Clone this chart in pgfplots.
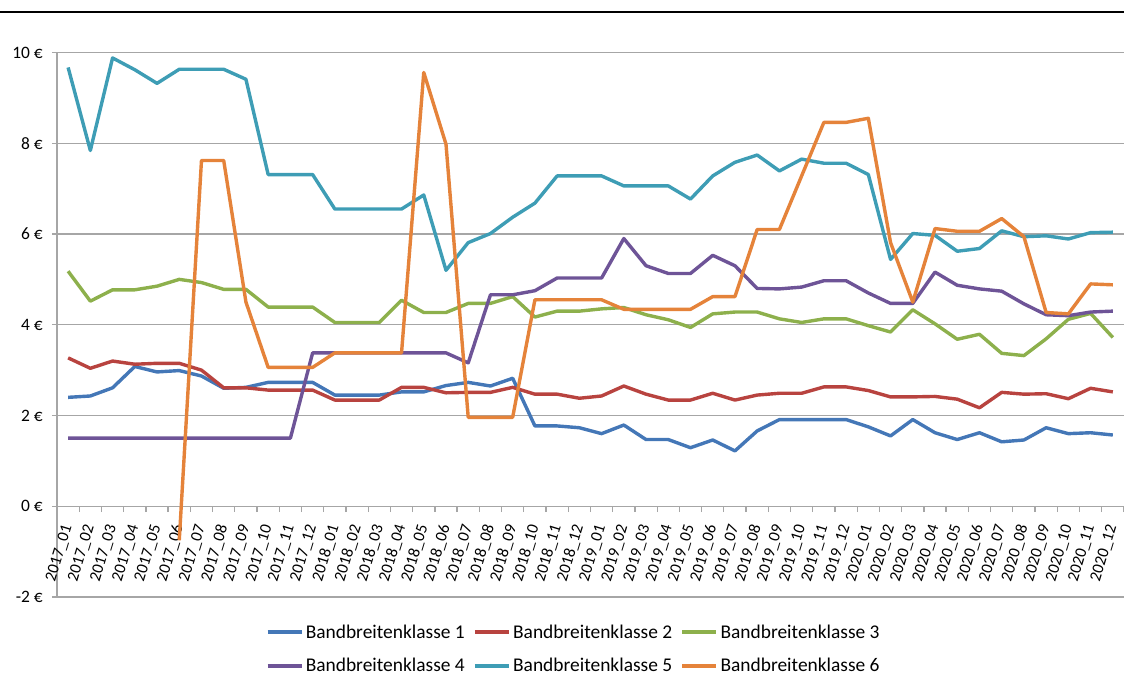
\documentclass[border=0pt]{standalone}
\usepackage{fontspec}
\setmainfont{Carlito}
\usepackage{pgfplots}
\usepackage{pgfplotstable}
\pgfplotsset{compat=1.18}
\definecolor{cA}{HTML}{4477B7}
\definecolor{cB}{HTML}{B8433F}
\definecolor{cC}{HTML}{8DB04C}
\definecolor{cD}{HTML}{6E5497}
\definecolor{cE}{HTML}{3E9DB5}
\definecolor{cF}{HTML}{E5833A}
\definecolor{gridgray}{HTML}{A6A6A6}
\pgfplotstableread{
idx s1 s2 s3 s4 s5 s6
0 2.40 3.27 5.18 1.50 9.67 nan
1 2.43 3.04 4.52 1.50 7.84 nan
2 2.61 3.20 4.77 1.50 9.88 nan
3 3.08 3.13 4.77 1.50 9.62 nan
4 2.96 3.15 4.85 1.50 9.32 nan
5 2.99 3.15 5.00 1.50 9.63 -0.75
6 2.87 3.00 4.93 1.50 9.63 7.62
7 2.60 2.61 4.78 1.50 9.63 7.62
8 2.62 2.61 4.78 1.50 9.41 4.50
9 2.73 2.56 4.39 1.50 7.31 3.06
10 2.73 2.56 4.39 1.50 7.31 3.06
11 2.73 2.56 4.39 3.38 7.31 3.06
12 2.45 2.34 4.05 3.38 6.55 3.38
13 2.45 2.34 4.05 3.38 6.55 3.38
14 2.45 2.34 4.05 3.38 6.55 3.38
15 2.52 2.62 4.54 3.38 6.55 3.38
16 2.52 2.62 4.27 3.38 6.86 9.56
17 2.66 2.50 4.27 3.38 5.20 7.98
18 2.73 2.51 4.47 3.16 5.81 1.96
19 2.65 2.51 4.47 4.66 6.01 1.96
20 2.82 2.62 4.62 4.66 6.37 1.96
21 1.77 2.47 4.17 4.75 6.68 4.55
22 1.77 2.47 4.30 5.03 7.28 4.55
23 1.73 2.38 4.30 5.03 7.28 4.55
24 1.60 2.43 4.35 5.03 7.28 4.55
25 1.79 2.65 4.38 5.90 7.06 4.34
26 1.47 2.47 4.22 5.30 7.06 4.34
27 1.47 2.34 4.11 5.13 7.06 4.34
28 1.29 2.34 3.94 5.13 6.77 4.34
29 1.46 2.49 4.24 5.53 7.28 4.62
30 1.22 2.34 4.28 5.30 7.58 4.62
31 1.66 2.45 4.28 4.80 7.74 6.10
32 1.91 2.49 4.13 4.79 7.39 6.10
33 1.91 2.49 4.05 4.83 7.65 7.28
34 1.91 2.63 4.13 4.97 7.56 8.46
35 1.91 2.63 4.13 4.97 7.56 8.46
36 1.75 2.55 3.98 4.70 7.31 8.55
37 1.55 2.41 3.84 4.47 5.44 5.81
38 1.91 2.41 4.33 4.47 6.01 4.50
39 1.62 2.42 4.02 5.16 5.97 6.12
40 1.47 2.36 3.68 4.87 5.62 6.06
41 1.62 2.17 3.79 4.79 5.68 6.06
42 1.42 2.51 3.37 4.74 6.07 6.34
43 1.46 2.47 3.32 4.46 5.94 5.94
44 1.73 2.48 3.69 4.22 5.96 4.27
45 1.60 2.37 4.12 4.20 5.89 4.24
46 1.62 2.60 4.25 4.28 6.03 4.90
47 1.57 2.52 3.72 4.30 6.04 4.88
}\datatable
\begin{document}
\begin{tikzpicture}
\path[use as bounding box] (0bp,0bp) rectangle (1124bp,675bp);
\draw[line width=2.5bp] (0bp,663bp) -- (1124bp,663bp);
\begin{axis}[
  at={(57bp,78bp)}, anchor=south west,
  scale only axis, width=1067bp, height=544.5bp,
  xmin=-0.5, xmax=47.5, ymin=-2, ymax=10,
  axis x line=middle, axis y line=left,
  axis line style={-, draw=gridgray, line width=1.3bp},
  hide obscured x ticks=false, hide obscured y ticks=false,
  xtick={0,...,47},
  xticklabels={2017\_01,2017\_02,2017\_03,2017\_04,2017\_05,2017\_06,2017\_07,2017\_08,2017\_09,2017\_10,2017\_11,2017\_12,
  2018\_01,2018\_02,2018\_03,2018\_04,2018\_05,2018\_06,2018\_07,2018\_08,2018\_09,2018\_10,2018\_11,2018\_12,
  2019\_01,2019\_02,2019\_03,2019\_04,2019\_05,2019\_06,2019\_07,2019\_08,2019\_09,2019\_10,2019\_11,2019\_12,
  2020\_01,2020\_02,2020\_03,2020\_04,2020\_05,2020\_06,2020\_07,2020\_08,2020\_09,2020\_10,2020\_11,2020\_12},
  minor xtick={-0.5,0.5,...,47.5},
  major x tick style={draw=none},
  ytick={-2,0,2,4,6,8,10},
  yticklabels={-2 €,0 €,2 €,4 €,6 €,8 €,10 €},
  ymajorgrids, grid style={gridgray, line width=1.3bp},
  tick align=outside, major tick length=5bp, minor tick length=6bp,
  tick style={gridgray, line width=1.3bp},
  xticklabel style={xshift=0bp, yshift=-13bp, rotate=73, anchor=east, font=\fontsize{16.5}{16.5}\selectfont, inner sep=1bp},
  yticklabel style={font=\fontsize{17.5}{17.5}\selectfont, inner sep=2bp, xshift=-7bp},
  legend style={at={(0.4836,-0.0955)}, anchor=center, draw=none, fill=none,
    font=\fontsize{19.5}{20}\selectfont, row sep=18bp, inner sep=0pt,
    nodes={inner sep=0.5bp},
    /tikz/every even column/.append style={column sep=8bp},
    /tikz/every odd column/.append style={column sep=2bp}},
  legend columns=3,
  legend cell align=left,
  legend image code/.code={\draw[#1] (0bp,0bp) -- (34bp,0bp);},
  every axis plot/.append style={line width=3.4bp, line join=round},
]
\addplot[cA] table[x=idx,y=s1]{\datatable};
\addlegendentry{Bandbreitenklasse 1}
\addplot[cB] table[x=idx,y=s2]{\datatable};
\addlegendentry{Bandbreitenklasse 2}
\addplot[cC] table[x=idx,y=s3]{\datatable};
\addlegendentry{Bandbreitenklasse 3}
\addplot[cD] table[x=idx,y=s4]{\datatable};
\addlegendentry{Bandbreitenklasse 4}
\addplot[cE] table[x=idx,y=s5]{\datatable};
\addlegendentry{Bandbreitenklasse 5}
\addplot[cF] table[x=idx,y=s6]{\datatable};
\addlegendentry{Bandbreitenklasse 6}
\end{axis}
\end{tikzpicture}
\end{document}
